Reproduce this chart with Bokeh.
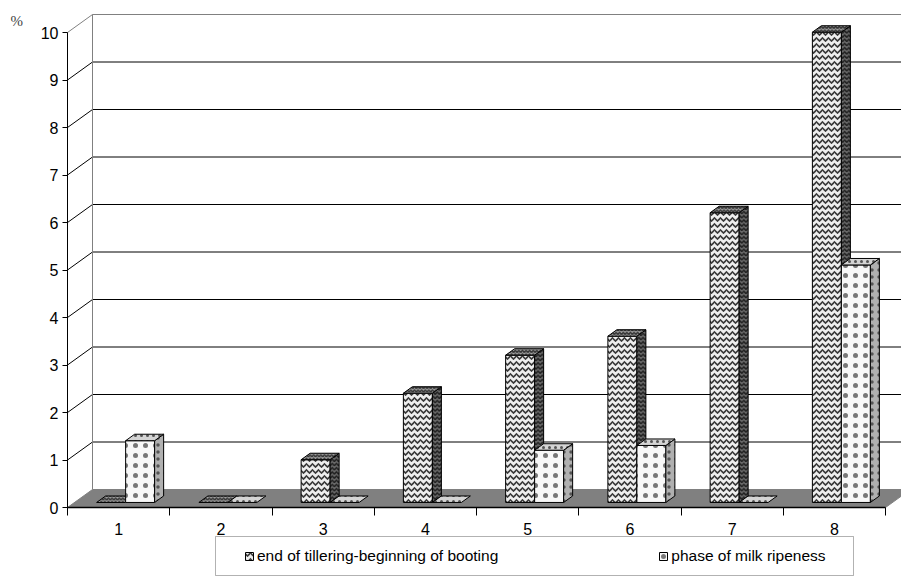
from bokeh.plotting import figure
from bokeh.models import Range1d, FixedTicker, Legend, LegendItem, Label, BoxAnnotation
from bokeh.embed import file_html
from bokeh.resources import INLINE

# ---- data ----
categories = [1, 2, 3, 4, 5, 6, 7, 8]
tick_labels = ["1", "2", "3", "4", "5", "6", "7", "8"]
booting = [0.0, 0.0, 0.9, 2.3, 3.1, 3.5, 6.1, 9.9]   # end of tillering-beginning of booting
milk = [1.3, 0.0, 0.0, 0.0, 1.1, 1.2, 0.0, 5.0]      # phase of milk ripeness
y_ticks = [0, 1, 2, 3, 4, 5, 6, 7, 8, 9, 10]
series_names = ["end of tillering-beginning of booting", "phase of milk ripeness"]

# ---- 3D projection style constants ----
PX_X = 102.25      # pixels per category
PX_Y = 47.5        # pixels per unit
DX = 25 / PX_X     # floor depth (x units)
DY = 18 / PX_Y     # floor depth (y units)
F0, F1 = 0.28, 0.64
BW = 29 / PX_X
FONT = "Liberation Sans"

W, H = 901, 579
ORIGIN_X, ORIGIN_Y = 67, 507   # pixel position of front axes corner
x0 = categories[0] - 0.5
x1 = categories[-1] + 0.5
ymax = y_ticks[-1]

p = figure(width=W, height=H, output_backend="svg", toolbar_location=None,
           x_range=Range1d(x0 - ORIGIN_X / PX_X, x0 + (W - ORIGIN_X) / PX_X),
           y_range=Range1d(-(H - ORIGIN_Y) / PX_Y, ORIGIN_Y / PX_Y),
           min_border=0, min_border_left=0, min_border_right=0, min_border_top=0,
           min_border_bottom=0, outline_line_color=None,
           background_fill_color="white", border_fill_color="white")
p.xgrid.visible = False
p.ygrid.visible = False

# back wall gridlines
inner = [v for v in y_ticks if 0 < v < ymax]
p.segment(x0=[x0 + DX] * len(inner), y0=[v + DY for v in inner],
          x1=[x1 + DX] * len(inner), y1=[v + DY for v in inner],
          line_color="black", line_width=1)
p.segment(x0=[x0] * len(inner), y0=inner, x1=[x0 + DX] * len(inner),
          y1=[v + DY for v in inner], line_color="black", line_width=1)
# wall borders (gray)
p.line(x=[x0, x0 + DX, x1 + DX], y=[ymax, ymax + DY, ymax + DY], line_color="#808080", line_width=1)
p.line(x=[x0 + DX, x0 + DX], y=[DY, ymax + DY], line_color="#808080", line_width=1)

# floor
p.patch(x=[x0, x1, x1 + DX, x0 + DX], y=[0, 0, DY, DY],
        fill_color="#808080", line_color="#808080")


def faces(vals, offset):
    front_x, front_y, side_x, side_y, top_x, top_y = [], [], [], [], [], []
    dxd, dyd = (F1 - F0) * DX, (F1 - F0) * DY
    for c, v in zip(categories, vals):
        xl = c + offset + F0 * DX
        xr = xl + BW
        yb = F0 * DY
        yt = yb + v
        top_x.append([xl, xr, xr + dxd, xl + dxd])
        top_y.append([yt, yt, yt + dyd, yt + dyd])
        if v > 0:
            front_x.append([xl, xr, xr, xl])
            front_y.append([yb, yb, yt, yt])
            side_x.append([xr, xr + dxd, xr + dxd, xr])
            side_y.append([yb, yb + dyd, yt + dyd, yt])
    return front_x, front_y, side_x, side_y, top_x, top_y


styles = [
    dict(front=("#eeeeee", "#3a3a3a"), side=("#6a6a6a", "#222222"), top=("#a0a0a0", "#333333"),
         pattern="v", scale=6.0, weight=1.7),
    dict(front=("#f8f8f8", "#777777"), side=("#b0b0b0", "#555555"), top=("#d4d4d4", "#555555"),
         pattern=".", scale=10.0, weight=0.9),
]
front_renderers = []
for vals, off, st in [(booting, -BW, styles[0]), (milk, 0.0, styles[1])]:
    fx, fy, sx, sy, tx, ty = faces(vals, off)
    rf = p.patches(xs=fx, ys=fy, fill_color=st["front"][0], hatch_pattern=st["pattern"],
                   hatch_color=st["front"][1], hatch_scale=st["scale"], hatch_weight=st["weight"],
                   line_color="black", line_width=1)
    p.patches(xs=sx, ys=sy, fill_color=st["side"][0], hatch_pattern=st["pattern"],
              hatch_color=st["side"][1], hatch_scale=st["scale"] * 0.7, hatch_weight=st["weight"],
              line_color="black", line_width=1)
    p.patches(xs=tx, ys=ty, fill_color=st["top"][0], hatch_pattern=st["pattern"],
              hatch_color=st["top"][1], hatch_scale=st["scale"] * 0.6, hatch_weight=st["weight"],
              line_color="black", line_width=1)
    front_renderers.append(rf)

# axes (fixed at the front corner of the 3D box)
yax = p.yaxis[0]
yax.fixed_location = x0
yax.ticker = FixedTicker(ticks=y_ticks, minor_ticks=[])
yax.bounds = (y_ticks[0], y_ticks[-1])
yax.axis_line_color = "black"
yax.major_tick_line_color = "black"
yax.major_tick_out = 5
yax.major_tick_in = 0
yax.minor_tick_line_color = None
yax.major_label_standoff = 4
yax.major_label_text_font = FONT
yax.major_label_text_font_size = "16px"
yax.major_label_text_color = "black"

xax = p.xaxis[0]
xax.fixed_location = 0
xax.ticker = FixedTicker(ticks=categories, minor_ticks=[c - 0.5 for c in categories] + [x1])
xax.major_label_overrides = {c: t for c, t in zip(categories, tick_labels)}
xax.bounds = (x0, x1)
xax.axis_line_color = "black"
xax.axis_line_width = 1.5
xax.major_tick_line_color = None
xax.major_tick_out = 0
xax.major_tick_in = 0
xax.minor_tick_line_color = "black"
xax.minor_tick_out = 8
xax.minor_tick_in = 0
xax.major_label_standoff = 7
xax.major_label_text_font = FONT
xax.major_label_text_font_size = "16px"
xax.major_label_text_color = "black"

# percent sign
p.add_layout(Label(x=10, y=H - 20, x_units="screen", y_units="screen",
                   text="%", text_font="Liberation Serif", text_font_size="15px",
                   text_color="#444444", text_baseline="middle", text_align="left"))

# legend box
p.add_layout(BoxAnnotation(left=215, right=853, bottom=H - 575, top=H - 536,
                           left_units="screen", right_units="screen",
                           bottom_units="screen", top_units="screen",
                           fill_color="white", fill_alpha=1, line_color="black", line_width=1,
                           level="annotation"))

legend = Legend(items=[LegendItem(label=series_names[0], renderers=[front_renderers[0]]),
                       LegendItem(label=series_names[1], renderers=[front_renderers[1]])],
                orientation="horizontal", location=(244, H - 575 + 10),
                padding=6, spacing=160, glyph_width=10, glyph_height=10, label_standoff=3,
                label_text_font=FONT, label_text_font_size="15.5px", label_text_color="black",
                border_line_color=None, background_fill_alpha=0)
p.add_layout(legend)

open("out.html", "w").write(file_html(p, INLINE))
